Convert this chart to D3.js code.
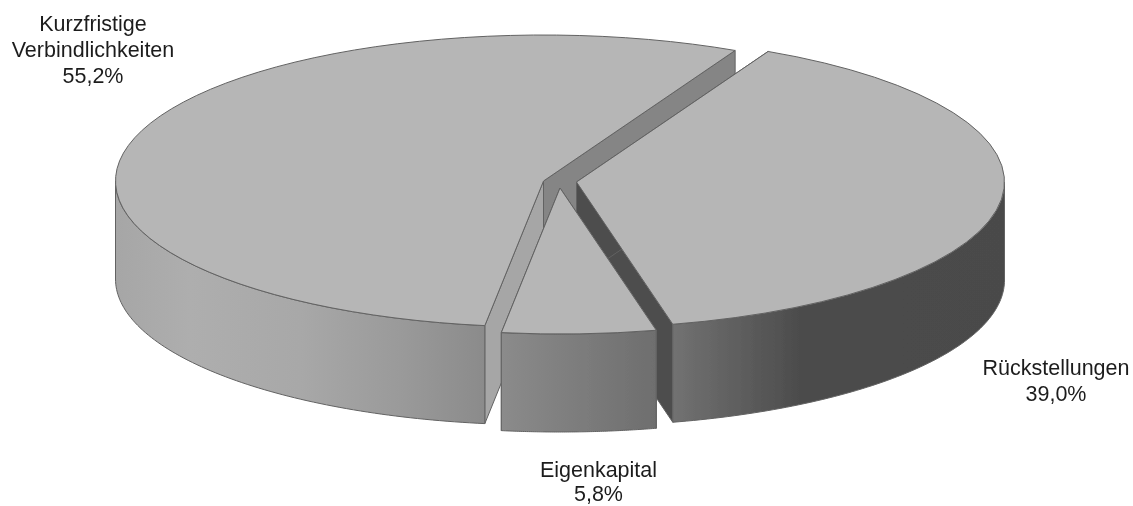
<!DOCTYPE html>
<html><head><meta charset="utf-8">
<script src="https://cdnjs.cloudflare.com/ajax/libs/d3/7.8.5/d3.min.js"></script>
<style>html,body{margin:0;padding:0;background:#fff}svg{display:block}text{font-family:"Liberation Sans",Arial,sans-serif;font-size:21.5px;fill:#1c1c1c;text-anchor:middle}</style>
</head><body><svg id="c" width="1133" height="506"></svg>
<script>
const categories = ["Rückstellungen", "Eigenkapital", "Kurzfristige Verbindlichkeiten"];
const values = [39.0, 5.8, 55.2];
const valueLabels = ["39,0%", "5,8%", "55,2%"];
const labelLines = [["Rückstellungen"], ["Eigenkapital"], ["Kurzfristige", "Verbindlichkeiten"]];
const labelPos = [[1056, 367.5], [598.5, 469], [93, 23.5]];
const labelLeading = [26, 24.5, 26];
const centers = [[576.5, 182], [560, 188], [543.5, 181]];
const wallColors = [["#4d4d4d", "#4d4d4d"], ["#7a7a7a", "#7a7a7a"], ["#a6a6a6", "#858585"]];
const sideStops = [
  [[672, "#727272"], [800, "#4c4c4c"], [1005, "#4a4a4a"]],
  [[501, "#8b8b8b"], [656, "#6e6e6e"]],
  [[116, "#a6a6a6"], [190, "#aeaeae"], [300, "#a8a8a8"], [400, "#9a9a9a"], [484, "#8b8b8b"]]
];
const RX = 428, RY = 146, DEPTH = 98, STROKE = "#626262", TOP = "#b6b6b6";

const svg = d3.select("#c");
const defs = svg.append("defs");
defs.append("filter").attr("id", "soft").attr("x", "-2%").attr("y", "-2%").attr("width", "104%").attr("height", "104%")
  .append("feGaussianBlur").attr("stdDeviation", 0.35);
const pie = d3.pie().sort(null).startAngle(26.6 * Math.PI / 180).endAngle((26.6 + 360) * Math.PI / 180);
const arcs = pie(values);
const sx = a => RX * Math.sin(a), sy = a => -RY * Math.cos(a);
const arcGen = d3.arc().innerRadius(0).outerRadius(RX);
const g = svg.append("g").attr("filter", "url(#soft)");

[2, 0, 1].forEach(i => {
  const d = arcs[i], [cx, cy] = centers[i];
  const wall = (ang, col) => {
    const x = cx + sx(ang), y = cy + sy(ang);
    g.append("path").attr("d", d3.line()([[cx, cy], [x, y], [x, y + DEPTH], [cx, cy + DEPTH]]) + "Z")
      .attr("fill", col).attr("stroke", STROKE).attr("stroke-width", 1).attr("stroke-linejoin", "round");
  };
  wall(d.endAngle, wallColors[i][1]);
  wall(d.startAngle, wallColors[i][0]);

  // outer rim: only the front half of the ellipse is visible
  const a0 = Math.max(d.startAngle, Math.PI / 2), a1 = Math.min(d.endAngle, 3 * Math.PI / 2);
  const t = d3.scaleLinear().domain([0, 80]).range([a0, a1]);
  const top = d3.range(81).map(k => [cx + sx(t(k)), cy + sy(t(k))]);
  const bottom = top.map(p => [p[0], p[1] + DEPTH]).reverse();
  const id = "side" + i, stops = sideStops[i];
  const pos = d3.scaleLinear().domain([stops[0][0], stops[stops.length - 1][0]]).range([0, 1]);
  const lg = defs.append("linearGradient").attr("id", id).attr("gradientUnits", "userSpaceOnUse")
    .attr("x1", stops[0][0]).attr("x2", stops[stops.length - 1][0]).attr("y1", 0).attr("y2", 0);
  stops.forEach(s => lg.append("stop").attr("offset", pos(s[0])).attr("stop-color", s[1]));
  g.append("path").attr("d", d3.line()(top.concat(bottom)) + "Z")
    .attr("fill", `url(#${id})`).attr("stroke", STROKE).attr("stroke-width", 1).attr("stroke-linejoin", "round");

  g.append("path").attr("d", arcGen(d))
    .attr("transform", `translate(${cx},${cy}) scale(1,${RY / RX})`)
    .attr("fill", TOP).attr("stroke", STROKE).attr("stroke-width", 1)
    .attr("vector-effect", "non-scaling-stroke").attr("stroke-linejoin", "round");
});

categories.forEach((c, i) => {
  const lines = labelLines[i].concat(valueLabels[i]);
  lines.forEach((l, k) => {
    svg.append("text").attr("x", labelPos[i][0]).attr("y", labelPos[i][1] + k * labelLeading[i])
      .attr("dy", "0.35em").attr("filter", "url(#soft)").text(l);
  });
});
</script></body></html>
